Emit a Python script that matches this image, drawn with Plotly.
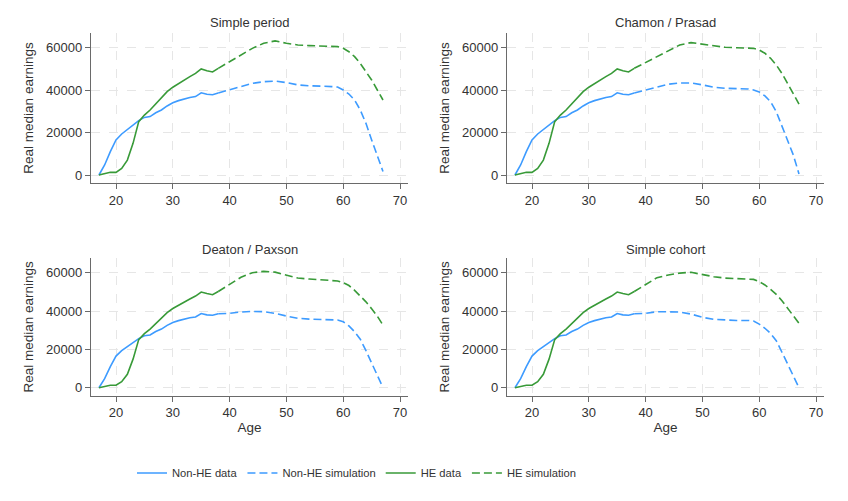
import plotly.graph_objects as go

# ---------------- data ----------------
data_age = list(range(17, 39))
nonhe_data = [0, 4700, 11000, 16500, 19300, 21500, 23500, 25600, 27100, 27500, 29300,
              30600, 32500, 34000, 35000, 35900, 36500, 36900, 38700, 38000, 37800, 38600]
he_data = [0, 800, 1250, 1250, 3100, 7000, 14900, 25100, 28200, 30600, 33400,
           36500, 39200, 41300, 43100, 44700, 46300, 47800, 49900, 49100, 48500, 50200]

sim_age = [38, 40, 42, 44, 46, 48, 50, 52, 54, 56, 58, 59, 60, 61, 62, 63, 64, 65, 66, 67]

panels = ["Simple period", "Chamon / Prasad", "Deaton / Paxson", "Simple cohort"]

nonhe_sim = {
    "Simple period": [38600, 40000, 41600, 43100, 43900, 44200, 43500, 42400, 42000, 41900,
                      41600, 41400, 40000, 38100, 35300, 30600, 24300, 16500, 8600, 1600],
    "Chamon / Prasad": [38600, 40000, 41300, 42700, 43300, 43300, 42400, 41300, 40800, 40600,
                        40500, 40000, 39100, 37200, 34500, 29800, 22700, 16500, 9400, 500],
    "Deaton / Paxson": [38600, 38800, 39500, 39800, 39650, 38800, 37400, 36200, 35800, 35650,
                        35650, 35300, 34400, 32200, 29200, 25300, 19300, 13000, 6500, 0],
    "Simple cohort": [38600, 38800, 39650, 39650, 39500, 38400, 36700, 35650, 35300, 35100,
                      35100, 34800, 33200, 31000, 28300, 24500, 18500, 12500, 6000, 0],
}
he_sim = {
    "Simple period": [50200, 53300, 56500, 59600, 62000, 63100, 62000, 61200, 60900, 60700,
                      60400, 60400, 59600, 58000, 55700, 52500, 48600, 44700, 40000, 35300],
    "Chamon / Prasad": [50200, 53000, 56000, 58800, 61200, 62300, 61500, 60700, 60100, 59900,
                        59800, 59600, 58800, 57300, 54900, 51800, 47800, 43100, 38400, 33400],
    "Deaton / Paxson": [50200, 54000, 57600, 60000, 60700, 60300, 58800, 57200, 56700, 56300,
                        56200, 55700, 54800, 53300, 50800, 48000, 44800, 41200, 37300, 32600],
    "Simple cohort": [50200, 54000, 57400, 58800, 59800, 60200, 59100, 57900, 57200, 56900,
                      56700, 56500, 55300, 53600, 51300, 48700, 45400, 41400, 37400, 33600],
}

x_ticks = [20, 30, 40, 50, 60, 70]
y_ticks = [0, 20000, 40000, 60000]

BLUE = "#3d9bff"
GREEN = "#389a38"
FONT = "Liberation Sans, Arial, sans-serif"
TXT = "#333333"
AX = "#6a6a6a"

W, H = 848, 501

def px_x(a, b):
    return [a / W, b / W]

def px_y(top, bottom):
    return [(H - bottom) / H, (H - top) / H]

domains = [
    (px_x(91, 408), px_y(33, 183), [-3765, 66824]),
    (px_x(507, 824), px_y(33, 183), [-3765, 66824]),
    (px_x(91, 408), px_y(258, 395.7), [-4174, 67670]),
    (px_x(507, 824), px_y(258, 395.7), [-4174, 67670]),
]

fig = go.Figure()
layout = {}
annotations = []

for i, name in enumerate(panels):
    n = i + 1
    xa = "x" if n == 1 else f"x{n}"
    ya = "y" if n == 1 else f"y{n}"
    show = i == 0
    fig.add_trace(go.Scatter(x=data_age, y=nonhe_data, mode="lines", name="Non-HE data",
                             line=dict(color=BLUE, width=1.6), xaxis=xa, yaxis=ya,
                             showlegend=show, legendrank=1))
    fig.add_trace(go.Scatter(x=sim_age, y=nonhe_sim[name], mode="lines", name="Non-HE simulation",
                             line=dict(color=BLUE, width=1.6, dash="8px,4px"), xaxis=xa, yaxis=ya,
                             showlegend=show, legendrank=2))
    fig.add_trace(go.Scatter(x=data_age, y=he_data, mode="lines", name="HE data",
                             line=dict(color=GREEN, width=1.6), xaxis=xa, yaxis=ya,
                             showlegend=show, legendrank=3))
    fig.add_trace(go.Scatter(x=sim_age, y=he_sim[name], mode="lines", name="HE simulation",
                             line=dict(color=GREEN, width=1.6, dash="8px,4px"), xaxis=xa, yaxis=ya,
                             showlegend=show, legendrank=4))

    xd, yd, yr = domains[i]
    bottom_row = i >= 2
    xkey = "xaxis" if n == 1 else f"xaxis{n}"
    ykey = "yaxis" if n == 1 else f"yaxis{n}"
    layout[xkey] = dict(
        domain=xd, range=[15.6, 71.4], anchor=ya, tickvals=x_ticks,
        showline=True, linecolor=AX, linewidth=1.3, ticks="outside", ticklen=5,
        tickcolor=AX, tickwidth=1.3, showgrid=True, gridcolor="#e6e6e6", griddash="dash",
        gridwidth=1, zeroline=False, tickfont=dict(size=13, color=TXT, family=FONT),
        title=dict(text="Age" if bottom_row else "", font=dict(size=13.5, color=TXT, family=FONT),
                   standoff=3),
    )
    layout[ykey] = dict(
        domain=yd, range=yr, anchor=xa, tickvals=y_ticks, ticktext=[str(v) for v in y_ticks],
        showline=True, linecolor=AX, linewidth=1.3, ticks="outside", ticklen=5,
        tickcolor=AX, tickwidth=1.3, showgrid=True, gridcolor="#e6e6e6", griddash="dash",
        gridwidth=1, zeroline=False, tickfont=dict(size=13, color=TXT, family=FONT),
        title=dict(text="Real median earnings", font=dict(size=13.5, color=TXT, family=FONT),
                   standoff=9),
    )
    cx = (xd[0] + xd[1]) / 2
    ty = (H - (22 if i < 2 else 249)) / H
    annotations.append(dict(text=name, x=cx, y=ty, xref="paper", yref="paper",
                            showarrow=False, xanchor="center", yanchor="middle",
                            font=dict(size=13, color=TXT, family=FONT)))

fig.update_layout(
    **layout,
    annotations=annotations,
    width=W, height=H,
    margin=dict(l=0, r=0, t=0, b=0),
    paper_bgcolor="white", plot_bgcolor="white",
    font=dict(family=FONT, color=TXT),
    legend=dict(orientation="h", x=132 / W, xanchor="left", y=(H - 473) / H, yanchor="middle",
                font=dict(size=11.2, color=TXT, family=FONT), itemwidth=30,
                traceorder="normal", bgcolor="rgba(0,0,0,0)"),
)

fig.write_html("out.html")
